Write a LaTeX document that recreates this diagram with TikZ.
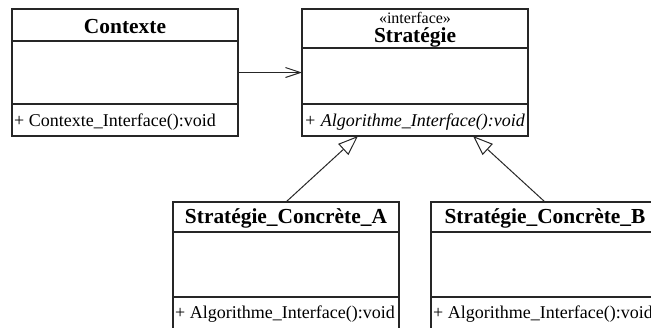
\documentclass[tikz,border=0pt]{standalone}
\usepackage{fontspec}
\setmainfont{Liberation Serif}
\usetikzlibrary{arrows.meta}
\begin{document}
\begin{tikzpicture}[x=1pt,y=-1pt,
  cls/.style={draw=black!85, line width=1.4pt, fill=white, inner sep=0pt, outer sep=0pt},
  sep/.style={draw=black!85, line width=1.3pt},
  ttl/.style={inner sep=0pt, font=\fontsize{21.4}{24}\selectfont\bfseries, anchor=base},
  ster/.style={inner sep=0pt, font=\fontsize{16}{18}\selectfont, anchor=base},
  meth/.style={inner sep=0pt, font=\fontsize{18}{20}\selectfont, anchor=base west},
  assoc/.style={draw=black!85, line width=1pt, -{Straight Barb[length=15pt,width=10pt]}},
  gen/.style={draw=black!85, line width=1pt, -{Triangle[open,length=20pt,width=15pt,fill=white]}}]
\useasboundingbox (0,0) rectangle (651,327);
\clip (0,0) rectangle (651,327);

% Contexte
\node[cls, minimum width=226pt, minimum height=127pt] (ctx) at (125,72.5) {};
\draw[sep] (12,41) -- (238,41);
\draw[sep] (12,104) -- (238,104);
\node[ttl] (ctxt) at (125,33) {Contexte};
\node[meth] (ctxm) at (14,126) {+ Contexte\_Interface():void};

% Strategie
\node[cls, minimum width=226pt, minimum height=127pt] (str) at (415,72.5) {};
\draw[sep] (302,48) -- (528,48);
\draw[sep] (302,104) -- (528,104);
\node[ster] (strs) at (415,23) {«interface»};
\node[ttl] (strt) at (415,42) {Stratégie};
\node[meth, font=\fontsize{18}{20}\selectfont\itshape] (strm) at (304,126) {+ Algorithme\_Interface():void};

% Concrete A
\node[cls, minimum width=226pt, minimum height=133pt] (ca) at (286,268.5) {};
\draw[sep] (173,232) -- (399,232);
\draw[sep] (173,297) -- (399,297);
\node[ttl] (cat) at (286,223) {Stratégie\_Concrète\_A};
\node[meth] (cam) at (175,318) {+ Algorithme\_Interface():void};

% Concrete B
\node[cls, minimum width=228pt, minimum height=133pt] (cb) at (545,268.5) {};
\draw[sep] (431,232) -- (659,232);
\draw[sep] (431,297) -- (659,297);
\node[ttl] (cbt) at (545,223) {Stratégie\_Concrète\_B};
\node[meth] (cbm) at (433,318) {+ Algorithme\_Interface():void};

% connectors
\draw[assoc] (ctx.east) -- (str.west);
\draw[gen] (ca.north) -- ([xshift=-57pt]str.south);
\draw[gen] (cb.north) -- ([xshift=58pt]str.south);
\end{tikzpicture}
\end{document}
